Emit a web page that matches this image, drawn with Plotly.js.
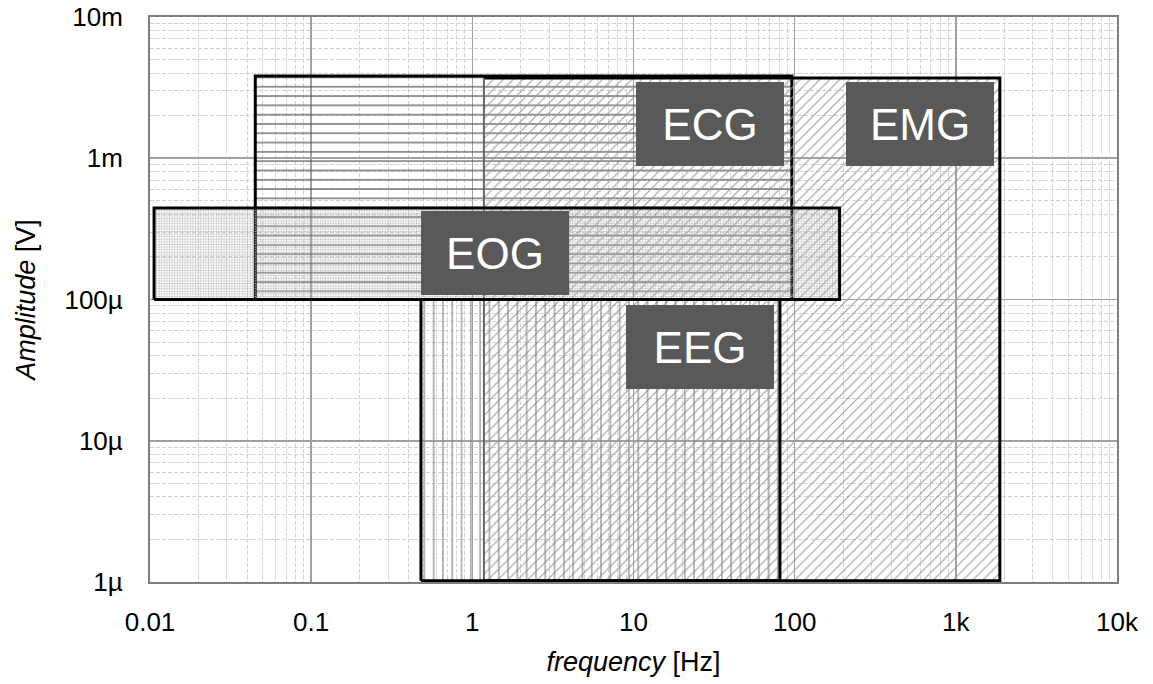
<!DOCTYPE html>
<html>
<head>
<meta charset="utf-8">
<script src="https://cdn.plot.ly/plotly-3.0.1.min.js"></script>
<style>html,body{margin:0;padding:0;background:#fff;}#chart{width:1153px;height:684px;}</style>
</head>
<body>
<div id="chart"></div>
<script>
// Signal ranges (frequency in Hz, amplitude in V)
const signals = ['ECG', 'EMG', 'EEG', 'EOG'];
const fMin = [0.045, 1.18, 0.48, 0.0106];
const fMax = [96, 1875, 81, 190];
const vMin = [100e-6, 1.02e-6, 1.02e-6, 100e-6];
const vMax = [3.82e-3, 3.7e-3, 100e-6, 0.445e-3];

// Label centres (frequency Hz, amplitude V)
const labelF = [29.8, 598, 26, 1.39];
const labelV = [1.75e-3, 1.76e-3, 46e-6, 0.212e-3];

const xTickVals = [0.01, 0.1, 1, 10, 100, 1000, 10000];
const xTickText = ['0.01', '0.1', '1', '10', '100', '1k', '10k'];
const yTickVals = [1e-6, 1e-5, 1e-4, 1e-3, 1e-2];
const yTickText = ['1µ', '10µ', '100µ', '1m', '10m'];

const patterns = {
  ECG: {shape: '-', size: 9.3, solidity: 0.13, fgcolor: '#555555'},
  EMG: {shape: '/', size: 7, solidity: 0.15, fgcolor: '#9a9a9a'},
  EEG: {shape: '|', size: 9.3, solidity: 0.13, fgcolor: '#8a8a8a'},
  EOG: {shape: '.', size: 2.6, solidity: 0.35, fgcolor: '#b4b4b4'}
};

const FONT = 'Liberation Sans, Arial, sans-serif';

const traces = [];
signals.forEach((s, i) => {
  const p = Object.assign({bgcolor: 'rgba(0,0,0,0)'}, patterns[s]);
  let xs, ys;
  if (s === 'EMG') {
    xs = [fMin[i], fMax[i], fMax[i], fMin[i]];
    ys = [vMin[i], vMin[i], vMax[i], vMax[i]];
  } else {
    xs = [fMin[i], fMax[i], fMax[i], fMin[i], fMin[i]];
    ys = [vMin[i], vMin[i], vMax[i], vMax[i], vMin[i]];
  }
  traces.push({
    type: 'scatter', mode: 'lines', x: xs, y: ys,
    fill: 'toself', fillcolor: 'rgba(0,0,0,0)', fillpattern: p,
    line: {color: '#000', width: 3}, hoverinfo: 'skip', showlegend: false
  });
  if (s === 'EMG') {
    traces.push({
      type: 'scatter', mode: 'lines', x: [fMin[i], fMin[i]], y: [vMin[i], vMax[i]],
      line: {color: '#666', width: 2}, hoverinfo: 'skip', showlegend: false
    });
  }
});

const annotations = signals.map((s, i) => ({
  x: Math.log10(labelF[i]), y: Math.log10(labelV[i]), xref: 'x', yref: 'y',
  text: s, showarrow: false, bgcolor: '#595959', borderpad: 0, borderwidth: 0,
  width: 148, height: 84, font: {family: FONT, size: 44, color: '#fff'}
}));

const axisCommon = {
  type: 'log', showline: true, mirror: true, linecolor: '#7f7f7f', linewidth: 2,
  showgrid: true, gridcolor: '#a0a0a0', gridwidth: 1.6, zeroline: false, ticks: '',
  tickmode: 'array', tickfont: {family: FONT, size: 26, color: '#000'},
  minor: {dtick: 'D1', showgrid: true, gridcolor: '#d2d2d2', griddash: '4px,2px', gridwidth: 1, ticks: ''}
};

const layout = {
  width: 1153, height: 684,
  margin: {l: 150, r: 36, t: 17, b: 102},
  paper_bgcolor: '#fff', plot_bgcolor: '#fff',
  showlegend: false,
  xaxis: Object.assign({}, axisCommon, {
    range: [-2, 4], tickvals: xTickVals, ticktext: xTickText, ticklabelstandoff: 16,
    title: {text: '<i>frequency</i> [Hz]', standoff: 16, font: {family: FONT, size: 27, color: '#000'}}
  }),
  yaxis: Object.assign({}, axisCommon, {
    range: [-6, -2], tickvals: yTickVals, ticktext: yTickText, ticklabelstandoff: 20,
    title: {text: '<i>Amplitude</i> [V]', standoff: 21, font: {family: FONT, size: 27, color: '#000'}}
  }),
  annotations: annotations
};

Plotly.newPlot('chart', traces, layout, {displayModeBar: false, staticPlot: true});
</script>
</body>
</html>
